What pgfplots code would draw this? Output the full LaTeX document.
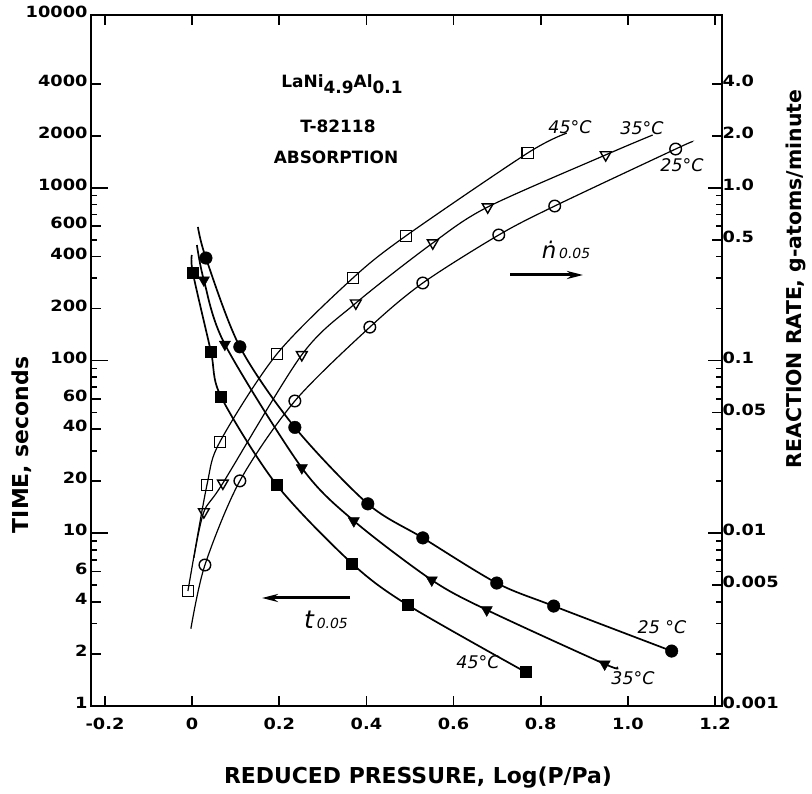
\documentclass[border=0pt]{standalone}
\usepackage{fontspec}
\setmainfont{DejaVu Sans}
\newfontfamily\tickfont[FakeStretch=1.15]{DejaVu Sans Bold}
\usepackage{pgfplots}
\pgfplotsset{compat=1.18}
\usetikzlibrary{arrows.meta}

\pgfplotsset{
  tline/.style={black, line width=1.7bp, smooth, no marks},
  nline/.style={black, line width=1.2bp, smooth, no marks},
}

\begin{document}
\begin{tikzpicture}
\useasboundingbox (-91bp,-88bp) rectangle (721bp,706bp);

% time axis (left)
\begin{axis}[
  at={(0,0)}, anchor=south west,
  scale only axis, width=631bp, height=691bp,
  xmin=-0.232, xmax=1.216, ymode=log,
  axis line style={line width=1.8bp},
  tick style={line width=1.6bp, black},
  major tick length=10bp, minor tick length=6bp,
  tick align=inside,
  tick label style={font=\tickfont\fontsize{15.5}{17}\selectfont},
  ymin=1, ymax=10000,
  xtick={-0.2,0,0.2,0.4,0.6,0.8,1.0,1.2},
  xticklabels={-0.2,0,0.2,0.4,0.6,0.8,1.0,1.2},
  xticklabel style={yshift=-9bp},
  xtick pos=both,
  ytick={1,2,4,6,10,20,40,60,100,200,400,600,1000,2000,4000,10000},
  yticklabels={1,2,4,6,10,20,40,60,100,200,400,600,1000,2000,4000,10000},
  yticklabel style={yshift=3bp},
  minor ytick={3,5,7,8,9,30,50,70,80,90,300,500,700,800,900},
  extra y ticks={1,10,100,1000,10000}, extra y tick labels={},
  extra y tick style={major tick length=17bp},
  ytick pos=left,
]
% 45 C
\addplot[tline] coordinates {(-0.0005,408) (0.0018,321) (0.0431,113) (0.066,62) (0.1945,19.0) (0.3665,6.7) (0.495,3.84) (0.7656,1.57)};
\addplot[only marks, mark=square*, mark size=5.5bp, black] coordinates {(0.0018,321) (0.0431,113) (0.066,62) (0.1945,19.0) (0.3665,6.7) (0.495,3.84) (0.7656,1.57)};
% 35 C
\addplot[tline] coordinates {(0.011,466) (0.027,292) (0.0752,124) (0.2518,23.9) (0.3711,11.8) (0.55,5.36) (0.6761,3.6) (0.9468,1.75) (0.9743,1.68)};
\addplot[only marks, mark=triangle*, mark size=6.5bp, mark options={rotate=180}, black] coordinates {(0.027,292) (0.0752,124) (0.2518,23.9) (0.3711,11.8) (0.55,5.36) (0.6761,3.6) (0.9468,1.75)};
% 25 C
\addplot[tline] coordinates {(0.0133,593) (0.0317,392) (0.1096,120) (0.2358,41) (0.4032,14.8) (0.5294,9.4) (0.6991,5.15) (0.8298,3.79) (1.1005,2.08)};
\addplot[only marks, mark=*, mark size=6.3bp, black] coordinates {(0.0317,392) (0.1096,120) (0.2358,41) (0.4032,14.8) (0.5294,9.4) (0.6991,5.15) (0.8298,3.79) (1.1005,2.08)};
\end{axis}

% reaction rate axis (right)
\begin{axis}[
  at={(0,0)}, anchor=south west,
  scale only axis, width=631bp, height=691bp,
  xmin=-0.232, xmax=1.216, ymode=log,
  axis line style={line width=1.8bp},
  tick style={line width=1.6bp, black},
  major tick length=10bp, minor tick length=6bp,
  tick align=inside,
  tick label style={font=\tickfont\fontsize{15.5}{17}\selectfont},
  ymin=0.001, ymax=10,
  axis x line=none, axis y line*=right,
  ytick={0.001,0.005,0.01,0.05,0.1,0.5,1,2,4},
  yticklabels={0.001,0.005,0.01,0.05,0.1,0.5,1.0,2.0,4.0},
  minor ytick={0.002,0.003,0.004,0.006,0.007,0.008,0.009,0.02,0.03,0.04,0.06,0.07,0.08,0.09,0.2,0.3,0.4,0.6,0.7,0.8,0.9},
  extra y ticks={0.01,0.1,1}, extra y tick labels={},
  extra y tick style={major tick length=14bp},
  yticklabel style={xshift=-3bp, yshift=3bp},
]
% 45 C
\addplot[nline] coordinates {(-0.0096,0.00463) (0.034,0.0190) (0.0638,0.0338) (0.1945,0.109) (0.3688,0.300) (0.4904,0.526) (0.7702,1.59) (0.8596,2.07)};
\addplot[only marks, mark=square, mark size=5.6bp, mark options={fill=white, line width=1.4bp}, black] coordinates {(-0.0096,0.00463) (0.034,0.0190) (0.0638,0.0338) (0.1945,0.109) (0.3688,0.300) (0.4904,0.526) (0.7702,1.59)};
% 35 C
\addplot[nline] coordinates {(0.0041,0.0072) (0.027,0.0133) (0.0706,0.0195) (0.2518,0.108) (0.3757,0.215) (0.5523,0.479) (0.6784,0.774) (0.9491,1.55) (1.0569,2.02)};
\addplot[only marks, mark=triangle, mark size=6.2bp, mark options={rotate=180, fill=white, line width=1.4bp}, black] coordinates {(0.027,0.0133) (0.0706,0.0195) (0.2518,0.108) (0.3757,0.215) (0.5523,0.479) (0.6784,0.774) (0.9491,1.55)};
% 25 C
\addplot[nline] coordinates {(-0.0028,0.0028) (0.0294,0.00655) (0.1096,0.0201) (0.2358,0.0583) (0.4078,0.156) (0.5294,0.281) (0.7037,0.533) (0.8321,0.784) (1.1096,1.676) (1.1463,1.84)};
\addplot[only marks, mark=o, mark size=5.8bp, mark options={fill=white, line width=1.4bp}, black] coordinates {(0.0294,0.00655) (0.1096,0.0201) (0.2358,0.0583) (0.4078,0.156) (0.5294,0.281) (0.7037,0.533) (0.8321,0.784) (1.1096,1.676)};
\end{axis}

% axis titles
\node[font=\bfseries\fontsize{22}{24}\selectfont] at (327bp,-72bp) {REDUCED PRESSURE, Log(P/Pa)};
\node[font=\bfseries\fontsize{22}{24}\selectfont, rotate=90] at (-69bp,261bp) {TIME, seconds};
\node[font=\bfseries\fontsize{20.5}{22}\selectfont, rotate=90] at (705bp,427bp) {REACTION RATE, g-atoms/minute};

% sample notes
\node[font=\bfseries\fontsize{17}{19}\selectfont] at (251bp,622bp) {LaNi\raisebox{-6bp}{4.9}Al\raisebox{-6bp}{0.1}};
\node[font=\bfseries\fontsize{17}{19}\selectfont] at (247bp,580bp) {T-82118};
\node[font=\bfseries\fontsize{17}{19}\selectfont] at (245bp,549bp) {ABSORPTION};

% handwritten labels
\begin{scope}[every node/.style={font=\itshape\fontsize{17.5}{19}\selectfont}]
\node at (479bp,579bp) {45°C};
\node at (551bp,578bp) {35°C};
\node at (591bp,541bp) {25°C};
\node at (571bp,79bp) {25 °C};
\node at (542bp,28bp) {35°C};
\node at (387bp,44bp) {45°C};
\node at (475bp,456bp) {{\fontsize{23}{23}\selectfont ṅ}\,{\fontsize{14}{14}\selectfont 0.05}};
\node at (235bp,86bp) {{\fontsize{25}{25}\selectfont t}\,{\fontsize{14}{14}\selectfont 0.05}};
\end{scope}
\draw[line width=3bp, -{Stealth[length=16bp,width=8bp]}] (419bp,431bp) -- (492bp,431bp);
\draw[line width=3bp, -{Stealth[length=16bp,width=8bp]}] (259bp,108bp) -- (171bp,108bp);
\end{tikzpicture}
\end{document}
